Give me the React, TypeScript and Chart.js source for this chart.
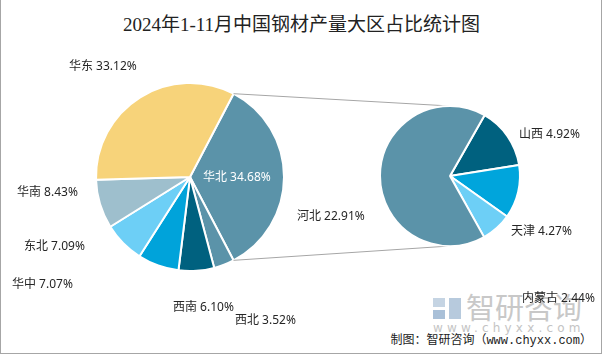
import React, { useEffect, useRef } from "react";
import { Chart, registerables } from "chart.js";

Chart.register(...registerables);

// ---- data ----
const TITLE = "2024年1-11月中国钢材产量大区占比统计图";
const REGIONS = ["华北", "西北", "西南", "华中", "东北", "华南", "华东"];
const REGION_SHARES = [34.68, 3.52, 6.1, 7.07, 7.09, 8.43, 33.12];
const NORTH_PROVINCES = ["山西", "天津", "内蒙古", "河北"];
const NORTH_SHARES = [4.92, 4.27, 2.44, 22.91];
const SOURCE = "制图：智研咨询（www.chyxx.com）";

// ---- styles / layout ----
const REGION_COLORS = ["#5B93A9", "#5B93A9", "#00617F", "#00A3DA", "#6DCFF6", "#9EBFCD", "#F7D37A"];
const NORTH_COLORS = ["#00617F", "#00A5DC", "#6DCFF6", "#5B93A9"];
const LEFT_LABEL_POS = [
  [203, 178],
  [235, 321],
  [173, 308],
  [12, 285],
  [24, 247],
  [17, 193],
  [69, 67],
];
const LEFT_LABEL_COLORS = ["#FFFFFF", "#262626", "#262626", "#262626", "#262626", "#262626", "#262626"];
const RIGHT_LABEL_POS = [
  [519, 135],
  [511, 232],
  [522, 299],
  [297, 217],
];
const LABEL_FONT = '12px "Noto Sans", "Noto Sans CJK SC", sans-serif';
const W = 603;
const H = 356;

function labelPlugin(id: string, names: string[], pos: number[][], colors: string[] | null) {
  return {
    id,
    afterDatasetsDraw(chart: any) {
      const ctx = chart.ctx;
      const values = chart.data.datasets[0].data as number[];
      ctx.save();
      ctx.font = LABEL_FONT;
      ctx.textAlign = "left";
      ctx.textBaseline = "middle";
      names.forEach((n, i) => {
        ctx.fillStyle = colors ? colors[i] : "#262626";
        ctx.fillText(`${n} ${values[i].toFixed(2)}%`, pos[i][0], pos[i][1]);
      });
      ctx.restore();
    },
  };
}

export default function App() {
  const leftRef = useRef<HTMLCanvasElement>(null);
  const rightRef = useRef<HTMLCanvasElement>(null);

  useEffect(() => {
    document.body.style.margin = "0";
    const left = new Chart(leftRef.current!, {
      type: "pie",
      data: {
        labels: REGIONS,
        datasets: [
          {
            data: REGION_SHARES,
            backgroundColor: REGION_COLORS,
            borderColor: "#FFFFFF",
            borderWidth: 2,
            hoverOffset: 0,
          },
        ],
      },
      options: {
        animation: false,
        responsive: false,
        devicePixelRatio: 1,
        events: [],
        rotation: 27.6,
        radius: 94,
        layout: { padding: { left: 96, right: W - 284, top: 83, bottom: H - 271 } },
        plugins: { legend: { display: false }, tooltip: { enabled: false } },
      },
      plugins: [labelPlugin("leftLabels", REGIONS, LEFT_LABEL_POS, LEFT_LABEL_COLORS)],
    });

    const connector = {
      id: "connector",
      beforeDatasetsDraw(chart: any) {
        const la = left.getDatasetMeta(0).data[0] as any;
        const lp = la.getProps(["x", "y", "startAngle", "endAngle", "outerRadius"], true);
        const ra = chart.getDatasetMeta(0).data[0] as any;
        const rp = ra.getProps(["x", "y", "outerRadius"], true);
        const ctx = chart.ctx;
        ctx.save();
        ctx.strokeStyle = "#A6A6A6";
        ctx.lineWidth = 1;
        ctx.beginPath();
        ctx.moveTo(lp.x + lp.outerRadius * Math.cos(lp.startAngle), lp.y + lp.outerRadius * Math.sin(lp.startAngle));
        ctx.lineTo(rp.x, rp.y - rp.outerRadius);
        ctx.moveTo(lp.x + lp.outerRadius * Math.cos(lp.endAngle), lp.y + lp.outerRadius * Math.sin(lp.endAngle));
        ctx.lineTo(rp.x, rp.y + rp.outerRadius);
        ctx.stroke();
        ctx.restore();
      },
    };

    const right = new Chart(rightRef.current!, {
      type: "pie",
      data: {
        labels: NORTH_PROVINCES,
        datasets: [
          {
            data: NORTH_SHARES,
            backgroundColor: NORTH_COLORS,
            borderColor: "#FFFFFF",
            borderWidth: 2,
            hoverOffset: 0,
          },
        ],
      },
      options: {
        animation: false,
        responsive: false,
        devicePixelRatio: 1,
        events: [],
        rotation: 29.6,
        radius: 70,
        layout: { padding: { left: 380, right: W - 520, top: 106, bottom: H - 246 } },
        plugins: { legend: { display: false }, tooltip: { enabled: false } },
      },
      plugins: [connector, labelPlugin("rightLabels", NORTH_PROVINCES, RIGHT_LABEL_POS, null)],
    });

    return () => {
      right.destroy();
      left.destroy();
    };
  }, []);

  const abs: React.CSSProperties = { position: "absolute", left: 0, top: 0 };
  return (
    <div style={{ position: "relative", width: W, height: H, background: "#fff", overflow: "hidden" }}>
      {/* watermark */}
      <div style={{ position: "absolute", left: 433, top: 298, width: 12, height: 9, background: "#C5D4E3" }} />
      <div style={{ position: "absolute", left: 433, top: 310, width: 12, height: 9, background: "#A9C0D8" }} />
      <div style={{ position: "absolute", left: 449, top: 298, width: 12, height: 21, background: "#B7CADD" }} />
      <div
        style={{
          position: "absolute",
          left: 466,
          top: 289,
          font: '29px "Noto Sans CJK SC", sans-serif',
          color: "#C8C8C8",
          lineHeight: "34px",
          whiteSpace: "nowrap",
        }}
      >
        智研咨询
      </div>
      <div
        style={{
          position: "absolute",
          left: 433,
          top: 321,
          font: '12px "DejaVu Sans", sans-serif',
          color: "#C4C4C4",
          letterSpacing: "4.2px",
          lineHeight: "14px",
          whiteSpace: "nowrap",
        }}
      >
        www.chyxx.com
      </div>
      <div
        style={{
          position: "absolute",
          left: 0,
          top: 12,
          width: W,
          textAlign: "center",
          font: '19px "Liberation Serif", "Noto Sans CJK SC", serif',
          color: "#222",
          lineHeight: "26px",
          whiteSpace: "nowrap",
        }}
      >
        {TITLE}
      </div>
      <div
        style={{
          position: "absolute",
          right: 11,
          top: 333,
          font: '12px "Liberation Mono", "Noto Sans CJK SC", monospace',
          color: "#222",
          lineHeight: "16px",
          whiteSpace: "nowrap",
        }}
      >
        {SOURCE}
      </div>
      <canvas ref={leftRef} width={W} height={H} style={abs} />
      <canvas ref={rightRef} width={W} height={H} style={abs} />
      <div style={{ position: "absolute", left: 0, top: 0, width: 1, height: 354, background: "#A6A6A6" }} />
      <div style={{ position: "absolute", left: 601, top: 0, width: 1, height: 354, background: "#A6A6A6" }} />
      <div style={{ position: "absolute", left: 0, top: 353, width: 602, height: 1, background: "#A6A6A6" }} />
    </div>
  );
}
